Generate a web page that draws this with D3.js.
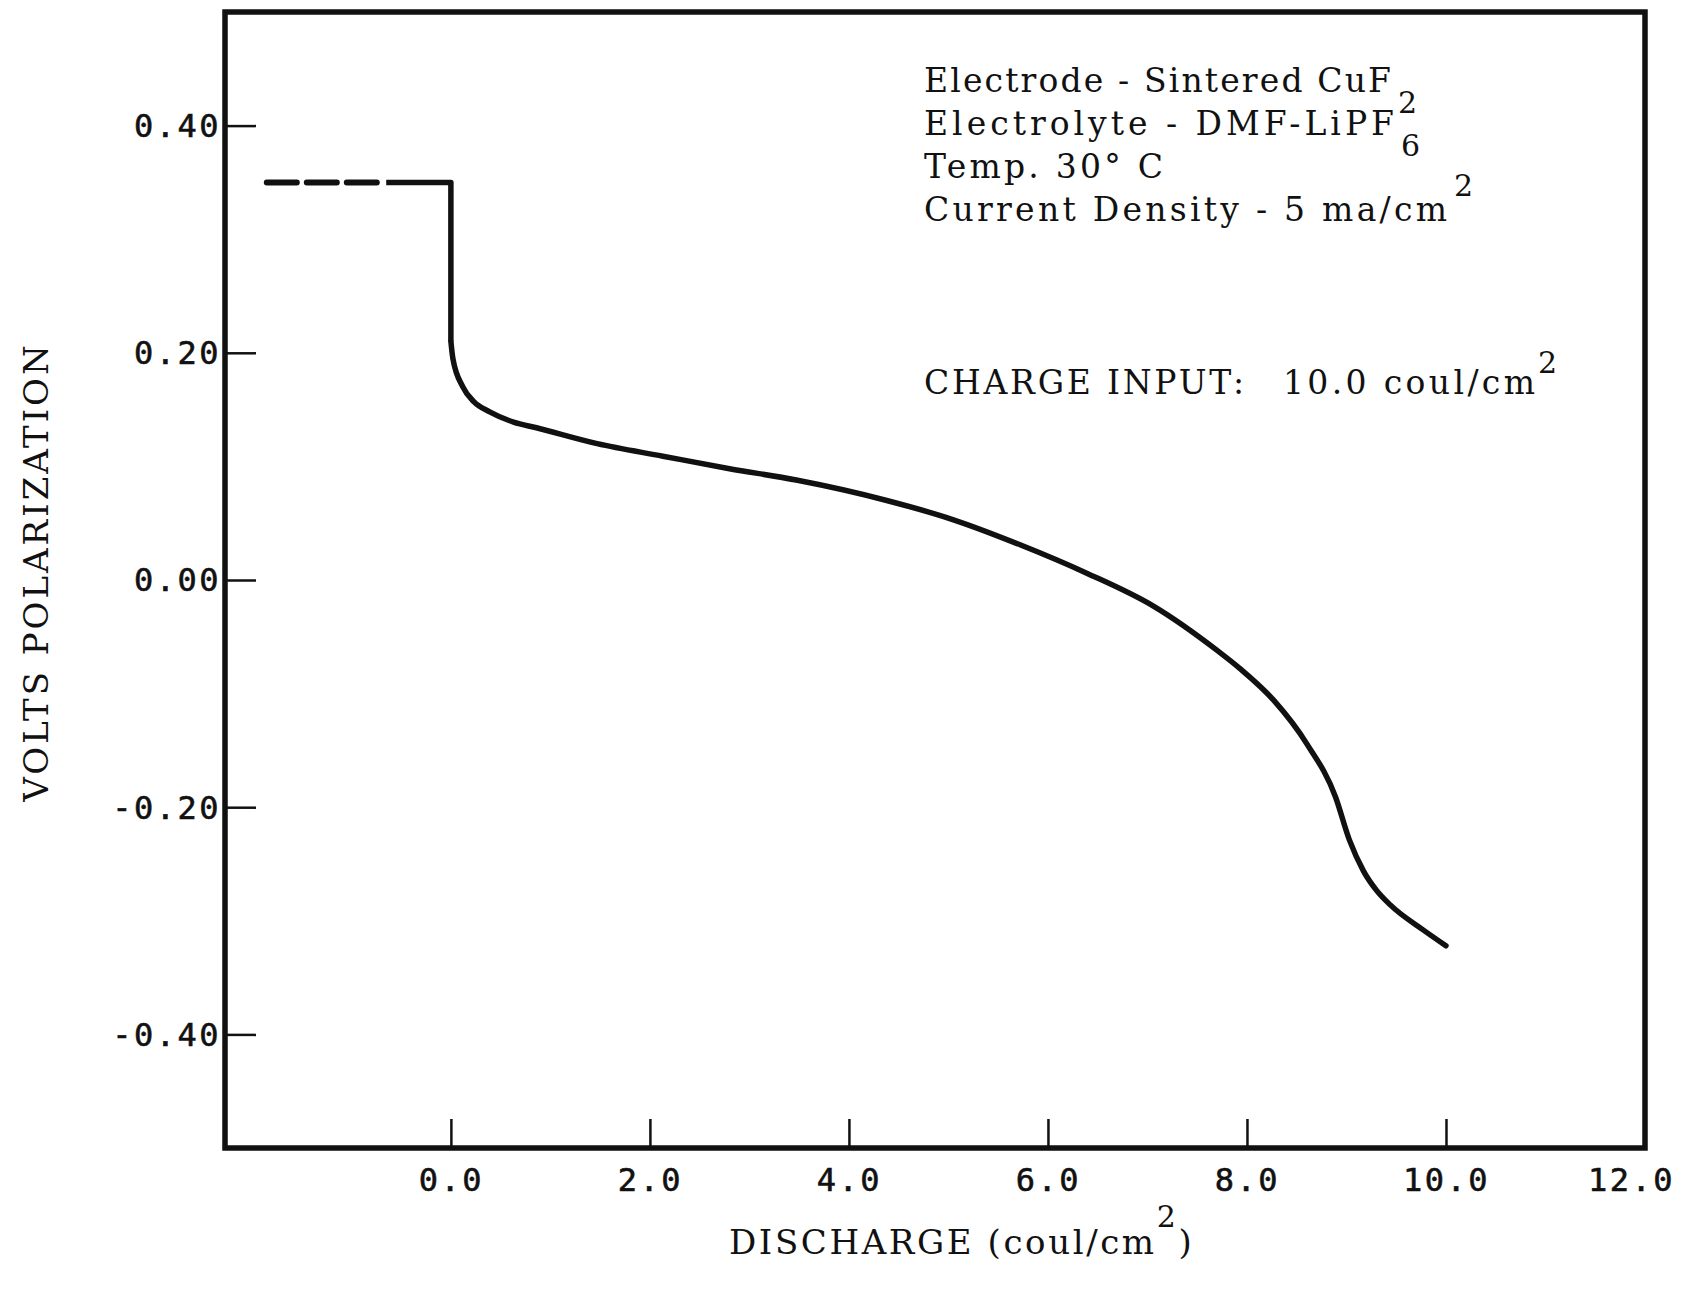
<!DOCTYPE html>
<html>
<head>
<meta charset="utf-8">
<script src="https://cdn.jsdelivr.net/npm/d3@7"></script>
<style>
    html, body { margin: 0; padding: 0; background: #ffffff; }
    svg { display: block; }
</style>
</head>
<body>
<div id="chart"></div>
<script>
// axis ticks
const xTickValues = [0, 2, 4, 6, 8, 10, 12];
const xTickLabels = ["0.0", "2.0", "4.0", "6.0", "8.0", "10.0", "12.0"];
const yTickValues = [0.4, 0.2, 0, -0.2, -0.4];
const yTickLabels = ["0.40", "0.20", "0.00", "-0.20", "-0.40"];

// open circuit part, dashed
const openCircuitX = [-1.85, -0.65];
const openCircuitY = [0.35, 0.35];

// start of discharge, straight step
const stepX = [-0.65, 0, 0];
const stepY = [0.35, 0.35, 0.21];

// discharge curve (coul/cm2 vs volts polarization)
const dischargeX = [0, 0.02, 0.12, 0.23, 0.39, 0.63, 0.86, 1.47, 2.13, 2.8, 3.47, 4.38, 5.05, 5.72, 6.39, 7.06, 7.7, 7.93, 8.27, 8.6, 8.89, 9.03, 9.17, 9.3, 9.44, 9.77, 10.0];
const polarizationY = [0.21, 0.195, 0.17, 0.157, 0.148, 0.139, 0.134, 0.12, 0.109, 0.098, 0.088, 0.070, 0.053, 0.031, 0.006, -0.023, -0.062, -0.078, -0.106, -0.144, -0.191, -0.229, -0.256, -0.273, -0.286, -0.308, -0.322];

// notes in the upper right
const noteTexts = ["Electrode - Sintered CuF", "Electrolyte - DMF-LiPF", "Temp. 30\u00B0 C", "Current Density - 5 ma/cm"];
const noteScripts = ["2", "6", "", "2"];
const noteScriptKinds = ["sub", "sub", "", "sup"];
const chargeLabel = "CHARGE INPUT:";
const chargeValue = "10.0 coul/cm";

const xTitle = "DISCHARGE (coul/cm";
const yTitle = "VOLTS POLARIZATION";

class Chart {
    constructor() {
        const attrs = {
            container: "#chart",
            svgWidth: 1681,
            svgHeight: 1296,
            plotLeft: 225,
            plotRight: 1645,
            plotTop: 12,
            plotBottom: 1148,
            xDomain: [-2.27, 12],
            yDomain: [-0.5, 0.5],
            ink: "#111111",
            tickFont: "'DejaVu Sans Mono', monospace",
            textFont: "'DejaVu Serif', serif",
            noteLeft: 924,
            noteTop: 92,
            noteStep: 43,
            noteWidths: [467, 470, 239, 523]
        };
        this.getState = () => attrs;
        this.setState = (d) => Object.assign(attrs, d);
    }

    render() {
        this.drawSvg();
        this.drawAxes();
        this.drawLines();
        this.drawTexts();
        return this;
    }

    drawSvg() {
        const { container, svgWidth, svgHeight, plotLeft, plotRight, plotTop, plotBottom, xDomain, yDomain } = this.getState();

        const svg = d3.select(container)
            .append("svg")
            .attr("width", svgWidth)
            .attr("height", svgHeight);

        const x = d3.scaleLinear().domain(xDomain).range([plotLeft, plotRight]);
        const y = d3.scaleLinear().domain(yDomain).range([plotBottom, plotTop]);

        this.setState({ svg, x, y });
    }

    drawAxes() {
        const { svg, x, y, ink, tickFont, xDomain, yDomain } = this.getState();

        const yAxis = d3.axisLeft(y)
            .tickValues(yTickValues)
            .tickFormat((d, i) => yTickLabels[i])
            .tickSizeInner(-31)
            .tickSizeOuter(0)
            .tickPadding(4);

        const yg = svg.append("g")
            .attr("class", "y-axis")
            .attr("transform", `translate(${x(xDomain[0])},0)`)
            .call(yAxis);

        const xAxis = d3.axisBottom(x)
            .tickValues(xTickValues)
            .tickFormat((d, i) => xTickLabels[i])
            .tickSizeInner(-29)
            .tickSizeOuter(0)
            .tickPadding(20);

        const xg = svg.append("g")
            .attr("class", "x-axis")
            .attr("transform", `translate(0,${y(yDomain[0])})`)
            .call(xAxis);

        [yg, xg].forEach(g => {
            g.select(".domain").remove();
            g.selectAll(".tick line").attr("stroke", ink).attr("stroke-width", 2.5);
            g.selectAll(".tick text")
                .attr("fill", ink)
                .attr("stroke", ink)
                .attr("stroke-width", 0.6)
                .attr("font-family", tickFont)
                .attr("font-size", 32)
                .attr("letter-spacing", 2.5);
        });
        // last x tick sits on the frame, its label is pulled in
        const lastTick = xg.selectAll(".tick").filter(d => d === 12);
        lastTick.select("line").remove();
        lastTick.select("text").attr("dx", -14);
        yg.selectAll(".tick text").attr("dy", "0.34em");

        // frame
        svg.append("rect")
            .attr("class", "frame")
            .attr("x", x(xDomain[0]))
            .attr("y", y(yDomain[1]))
            .attr("width", x(xDomain[1]) - x(xDomain[0]))
            .attr("height", y(yDomain[0]) - y(yDomain[1]))
            .attr("fill", "none")
            .attr("stroke", ink)
            .attr("stroke-width", 5.5);
    }

    drawLines() {
        const { svg, x, y, ink } = this.getState();

        const straight = d3.line().x(d => x(d[0])).y(d => y(d[1]));
        const smooth = d3.line().x(d => x(d[0])).y(d => y(d[1])).curve(d3.curveMonotoneX);

        svg.append("path")
            .attr("class", "open-circuit")
            .datum(d3.zip(openCircuitX, openCircuitY))
            .attr("d", straight)
            .attr("fill", "none")
            .attr("stroke", ink)
            .attr("stroke-width", 6)
            .attr("stroke-linecap", "round")
            .attr("stroke-dasharray", "30,10");

        svg.append("path")
            .attr("class", "step")
            .datum(d3.zip(stepX, stepY))
            .attr("d", straight)
            .attr("fill", "none")
            .attr("stroke", ink)
            .attr("stroke-width", 5.5)
            .attr("stroke-linejoin", "round");

        svg.append("path")
            .attr("class", "discharge")
            .datum(d3.zip(dischargeX, polarizationY))
            .attr("d", smooth)
            .attr("fill", "none")
            .attr("stroke", ink)
            .attr("stroke-width", 5.5)
            .attr("stroke-linecap", "round");
    }

    drawTexts() {
        const { svg, ink, textFont, noteLeft, noteTop, noteStep, noteWidths } = this.getState();

        const notes = svg.append("g")
            .attr("class", "notes")
            .attr("font-family", textFont)
            .attr("font-size", 33)
            .attr("fill", ink);

        noteTexts.forEach((t, i) => {
            const base = noteTop + i * noteStep;
            notes.append("text")
                .attr("x", noteLeft)
                .attr("y", base)
                .attr("textLength", noteWidths[i])
                .attr("lengthAdjust", "spacing")
                .text(t);
            if (noteScripts[i]) {
                notes.append("text")
                    .attr("x", noteLeft + noteWidths[i] + 7)
                    .attr("y", base + (noteScriptKinds[i] === "sub" ? 21 : -25))
                    .attr("font-size", 30)
                    .text(noteScripts[i]);
            }
        });

        // charge input line
        notes.append("text")
            .attr("x", noteLeft)
            .attr("y", 394)
            .attr("textLength", 320)
            .attr("lengthAdjust", "spacing")
            .text(chargeLabel);
        notes.append("text")
            .attr("x", 1283)
            .attr("y", 394)
            .attr("textLength", 252)
            .attr("lengthAdjust", "spacing")
            .text(chargeValue);
        notes.append("text")
            .attr("x", 1538)
            .attr("y", 373)
            .attr("font-size", 30)
            .text("2");

        const xt = svg.append("text")
            .attr("class", "x-title")
            .attr("x", 729)
            .attr("y", 1254)
            .attr("font-family", textFont)
            .attr("font-size", 34)
            .attr("letter-spacing", 2.6)
            .attr("fill", ink);
        xt.append("tspan").text(xTitle);
        xt.append("tspan").attr("dx", 0).attr("dy", -27).attr("font-size", 30).text("2");
        xt.append("tspan").attr("dx", 0).attr("dy", 27).text(")");

        svg.append("text")
            .attr("class", "y-title")
            .attr("transform", "translate(48,572) rotate(-90)")
            .attr("text-anchor", "middle")
            .attr("font-family", textFont)
            .attr("font-size", 34)
            .attr("letter-spacing", 3)
            .attr("fill", ink)
            .text(yTitle);
    }
}

new Chart().render();
</script>
</body>
</html>
